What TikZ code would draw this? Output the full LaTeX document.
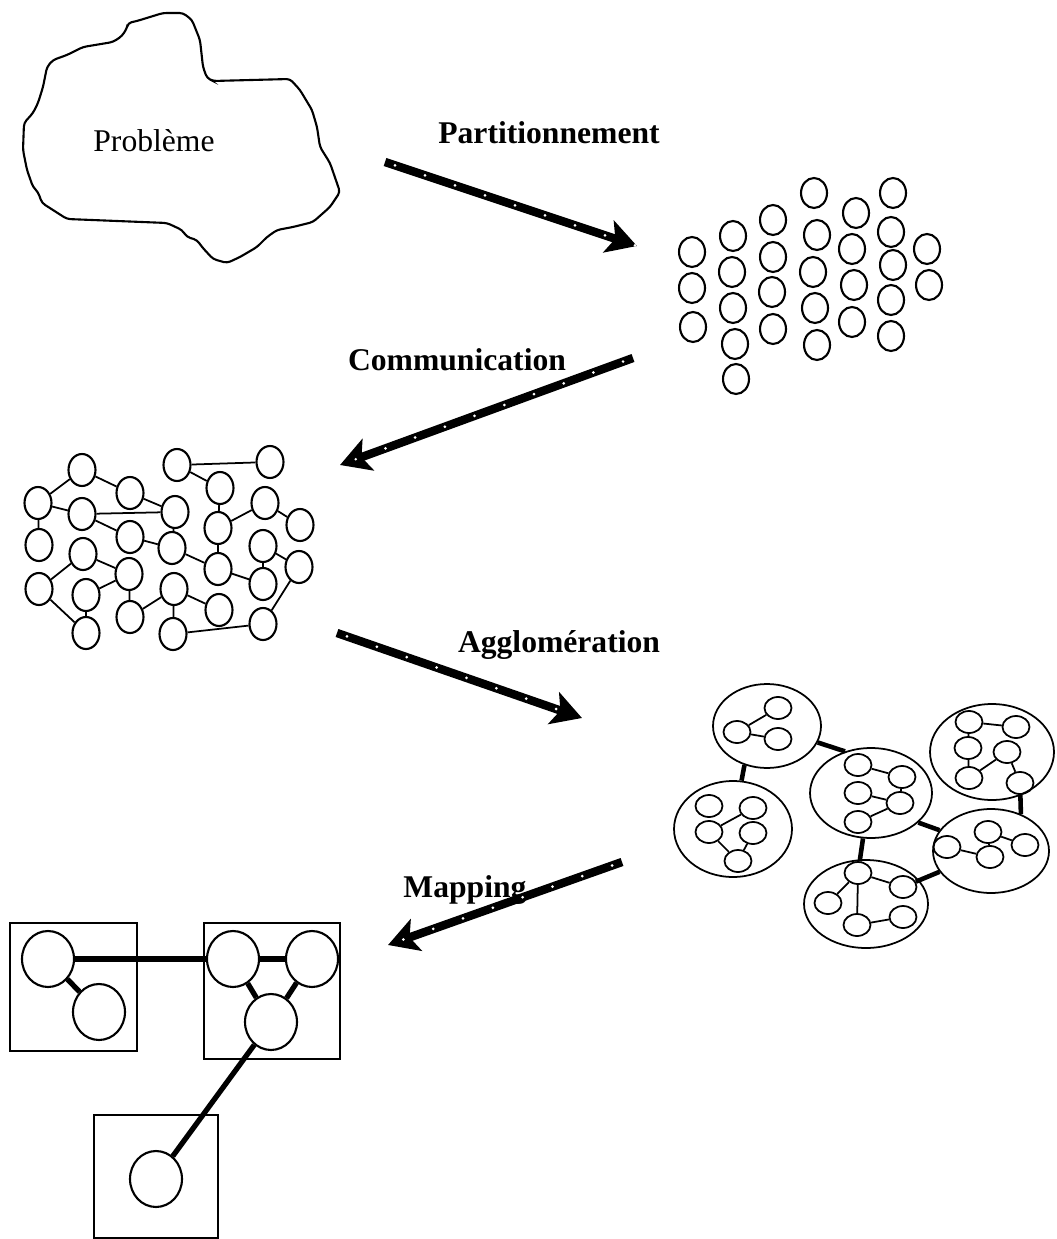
\documentclass[tikz,border=0pt]{standalone}
\usepackage{fontspec}
\setmainfont{Liberation Serif}
\usetikzlibrary{shapes.geometric,arrows.meta}

\begin{document}
\begin{tikzpicture}[x=0.02cm, y=-0.02cm, font=\fontsize{18}{22}\selectfont,
  part/.style={draw, ellipse, line width=1.2pt, inner sep=0pt, minimum width=0.52cm, minimum height=0.6cm},
  task/.style={draw, ellipse, line width=1.2pt, inner sep=0pt, minimum width=0.54cm, minimum height=0.64cm},
  sub/.style={draw, ellipse, line width=1pt, inner sep=0pt, minimum width=0.54cm, minimum height=0.44cm},
  grp/.style={draw, ellipse, line width=1pt, inner sep=0pt},
  proc/.style={draw, ellipse, line width=1.2pt, inner sep=0pt, minimum width=1.04cm, minimum height=1.12cm},
  box/.style={draw, line width=1.2pt},
  link/.style={line width=1pt},
  biglink/.style={line width=2.6pt},
  maplink/.style={line width=3pt},
  flow/.style={line width=4.8pt, -{Stealth[length=17pt, width=19pt, inset=4pt]}},
  dots/.style={white, line width=1.7pt, line cap=round, dash pattern=on 0pt off 18pt, dash phase=-6pt},
  lbl/.style={font=\fontsize{18}{22}\selectfont\bfseries}]
  \useasboundingbox (0,0) rectangle (1056,1239);

  % probleme
  \draw[line width=1.2pt, rounded corners=2pt] (128,23) -- (137,21) -- (163,13) -- (183,13) -- (192,20)
    -- (200,40) -- (203,67) -- (207,78) -- (213,81) -- (290,79) -- (300,90) -- (312,110) -- (317,127)
    -- (320,147) -- (330,163) -- (340,192) -- (330,207) -- (313,222) -- (293,227) -- (277,230)
    -- (267,237) -- (257,247) -- (240,257) -- (227,263) -- (213,259) -- (202,247) -- (197,240)
    -- (187,237) -- (182,230) -- (167,223) -- (67,219) -- (42,203) -- (38,192) -- (33,187)
    -- (27,170) -- (23,150) -- (24,123) -- (33,113) -- (38,103) -- (43,87) -- (47,67) -- (53,60)
    -- (67,55) -- (83,47) -- (113,42) -- (122,36) -- (127,28) -- cycle;
  \node (prob) at (154,141) {Problème};

  % partitionnement
  \node[part] (p1) at (692,252) {};
  \node[part] (p2) at (692,288) {};
  \node[part] (p3) at (693,327) {};
  \node[part] (p4) at (733,236) {};
  \node[part] (p5) at (732,272) {};
  \node[part] (p6) at (733,308) {};
  \node[part] (p7) at (735,344) {};
  \node[part] (p8) at (736,379) {};
  \node[part] (p9) at (773,220) {};
  \node[part] (p10) at (773,257) {};
  \node[part] (p11) at (772,292) {};
  \node[part] (p12) at (773,329) {};
  \node[part] (p13) at (814,193) {};
  \node[part] (p14) at (817,235) {};
  \node[part] (p15) at (813,272) {};
  \node[part] (p16) at (815,308) {};
  \node[part] (p17) at (817,345) {};
  \node[part] (p18) at (856,213) {};
  \node[part] (p19) at (852,249) {};
  \node[part] (p20) at (854,285) {};
  \node[part] (p21) at (852,322) {};
  \node[part] (p22) at (893,193) {};
  \node[part] (p23) at (891,232) {};
  \node[part] (p24) at (893,265) {};
  \node[part] (p25) at (891,300) {};
  \node[part] (p26) at (891,336) {};
  \node[part] (p27) at (927,249) {};
  \node[part] (p28) at (929,285) {};

  % communication
  \node[task] (g1) at (82,470) {};
  \node[task] (g2) at (130,493) {};
  \node[task] (g3) at (38,503) {};
  \node[task] (g4) at (82,514) {};
  \node[task] (g5) at (39,545) {};
  \node[task] (g6) at (130,537) {};
  \node[task] (g7) at (175,512) {};
  \node[task] (g8) at (172,548) {};
  \node[task] (g9) at (83,554) {};
  \node[task] (g10) at (39,589) {};
  \node[task] (g11) at (129,574) {};
  \node[task] (g12) at (86,595) {};
  \node[task] (g13) at (130,617) {};
  \node[task] (g14) at (86,633) {};
  \node[task] (g15) at (174,589) {};
  \node[task] (g16) at (173,634) {};
  \node[task] (g17) at (219,610) {};
  \node[task] (g18) at (177,465) {};
  \node[task] (g19) at (270,462) {};
  \node[task] (g20) at (220,488) {};
  \node[task] (g21) at (265,503) {};
  \node[task] (g22) at (218,528) {};
  \node[task] (g23) at (300,525) {};
  \node[task] (g24) at (263,546) {};
  \node[task] (g25) at (218,569) {};
  \node[task] (g26) at (299,567) {};
  \node[task] (g27) at (263,584) {};
  \node[task] (g28) at (263,624) {};
  \draw[link] (g3) -- (g1);
  \draw[link] (g1) -- (g2);
  \draw[link] (g3) -- (g4);
  \draw[link] (g3) -- (g5);
  \draw[link] (g4) -- (g7);
  \draw[link] (g4) -- (g6);
  \draw[link] (g2) -- (g7);
  \draw[link] (g7) -- (g8);
  \draw[link] (g6) -- (g8);
  \draw[link] (g8) -- (g25);
  \draw[link] (g18) -- (g19);
  \draw[link] (g18) -- (g20);
  \draw[link] (g20) -- (g22);
  \draw[link] (g22) -- (g21);
  \draw[link] (g21) -- (g23);
  \draw[link] (g22) -- (g25);
  \draw[link] (g25) -- (g27);
  \draw[link] (g24) -- (g27);
  \draw[link] (g24) -- (g26);
  \draw[link] (g26) -- (g28);
  \draw[link] (g10) -- (g9);
  \draw[link] (g9) -- (g11);
  \draw[link] (g11) -- (g12);
  \draw[link] (g11) -- (g13);
  \draw[link] (g12) -- (g14);
  \draw[link] (g10) -- (g14);
  \draw[link] (g13) -- (g15);
  \draw[link] (g15) -- (g17);
  \draw[link] (g15) -- (g16);
  \draw[link] (g16) -- (g28);

  % agglomeration
  \node[grp, minimum width=2.16cm, minimum height=1.68cm] (k1) at (767,726) {};
  \node[grp, minimum width=2.36cm, minimum height=1.92cm] (k2) at (733,829) {};
  \node[grp, minimum width=2.44cm, minimum height=1.8cm] (k3) at (871,793) {};
  \node[grp, minimum width=2.48cm, minimum height=1.92cm] (k4) at (992,752) {};
  \node[grp, minimum width=2.32cm, minimum height=1.68cm] (k5) at (991,851) {};
  \node[grp, minimum width=2.48cm, minimum height=1.76cm] (k6) at (866,904) {};
  \node[sub] (k1a) at (778,708) {};
  \node[sub] (k1b) at (737,732) {};
  \node[sub] (k1c) at (778,739) {};
  \node[sub] (k2a) at (709,806) {};
  \node[sub] (k2b) at (753,808) {};
  \node[sub] (k2c) at (709,832) {};
  \node[sub] (k2d) at (753,833) {};
  \node[sub] (k2e) at (738,861) {};
  \node[sub] (k3a) at (858,765) {};
  \node[sub] (k3b) at (902,777) {};
  \node[sub] (k3c) at (858,793) {};
  \node[sub] (k3d) at (900,803) {};
  \node[sub] (k3e) at (858,822) {};
  \node[sub] (k4a) at (969,722) {};
  \node[sub] (k4b) at (1016,727) {};
  \node[sub] (k4c) at (968,748) {};
  \node[sub] (k4d) at (1007,752) {};
  \node[sub] (k4e) at (969,778) {};
  \node[sub] (k4f) at (1020,783) {};
  \node[sub] (k5a) at (988,832) {};
  \node[sub] (k5b) at (1025,845) {};
  \node[sub] (k5c) at (947,847) {};
  \node[sub] (k5d) at (990,857) {};
  \node[sub] (k6a) at (858,873) {};
  \node[sub] (k6b) at (903,887) {};
  \node[sub] (k6c) at (828,903) {};
  \node[sub] (k6d) at (857,925) {};
  \node[sub] (k6e) at (903,917) {};
  \draw[link] (k1b) -- (k1a);
  \draw[link] (k1b) -- (k1c);
  \draw[link] (k2c) -- (k2b);
  \draw[link] (k2c) -- (k2e);
  \draw[link] (k2d) -- (k2e);
  \draw[link] (k3a) -- (k3b);
  \draw[link] (k3c) -- (k3d);
  \draw[link] (k3e) -- (k3d);
  \draw[link] (k3b) -- (k3d);
  \draw[link] (k4a) -- (k4b);
  \draw[link] (k4a) -- (k4c);
  \draw[link] (k4c) -- (k4e);
  \draw[link] (k4e) -- (k4d);
  \draw[link] (k4d) -- (k4f);
  \draw[link] (k5c) -- (k5d);
  \draw[link] (k5a) -- (k5d);
  \draw[link] (k5a) -- (k5b);
  \draw[link] (k6a) -- (k6b);
  \draw[link] (k6a) -- (k6c);
  \draw[link] (k6a) -- (k6d);
  \draw[link] (k6d) -- (k6e);
  \draw[biglink] (k1.240) -- (k2.80);
  \draw[biglink] (k1.-18) -- (k3.122);
  \draw[biglink] (k3.-32) -- (k5.158);
  \draw[biglink] (k3.-100) -- (k6a);
  \draw[biglink] (k6b) -- (k5.202);
  \draw[biglink] (k4f) -- (k5.51);

  % mapping
  \draw[box] (10,923) rectangle (137,1051);
  \draw[box] (204,923) rectangle (340,1059);
  \draw[box] (94,1115) rectangle (218,1238);
  \node[proc] (m1) at (48,959) {};
  \node[proc] (m2) at (99,1012) {};
  \node[proc] (m3) at (233,959) {};
  \node[proc] (m4) at (312,959) {};
  \node[proc] (m5) at (271,1022) {};
  \node[proc] (m6) at (156,1179) {};
  \draw[maplink] (m1) -- (m3);
  \draw[maplink] (m1) -- (m2);
  \draw[maplink] (m3) -- (m4);
  \draw[maplink] (m3) -- (m5);
  \draw[maplink] (m4) -- (m5);
  \draw[maplink] (m5) -- (m6);

  % etapes
  \node[lbl] (lpart) at (549,133) {Partitionnement};
  \node[lbl] (lcomm) at (457,360) {Communication};
  \node[lbl] (lagg) at (559,645) {Agglomération};
  \node[lbl] (lmap) at (465,890) {Mapping};
  \coordinate (a1s) at (385,162);
  \coordinate (a1e) at (637,246);
  \coordinate (a2s) at (633,358);
  \coordinate (a2e) at (340,465);
  \coordinate (a3s) at (337,633);
  \coordinate (a3e) at (582,718);
  \coordinate (a4s) at (622,862);
  \coordinate (a4e) at (388,945);
  \draw[flow] (a1s) -- (a1e);
  \draw[flow] (a2s) -- (a2e);
  \draw[flow] (a3s) -- (a3e);
  \draw[flow] (a4s) -- (a4e);
  \draw[dots] (a1s) -- (a1e);
  \draw[dots] (a2s) -- (a2e);
  \draw[dots] (a3s) -- (a3e);
  \draw[dots] (a4s) -- (a4e);
\end{tikzpicture}
\end{document}
